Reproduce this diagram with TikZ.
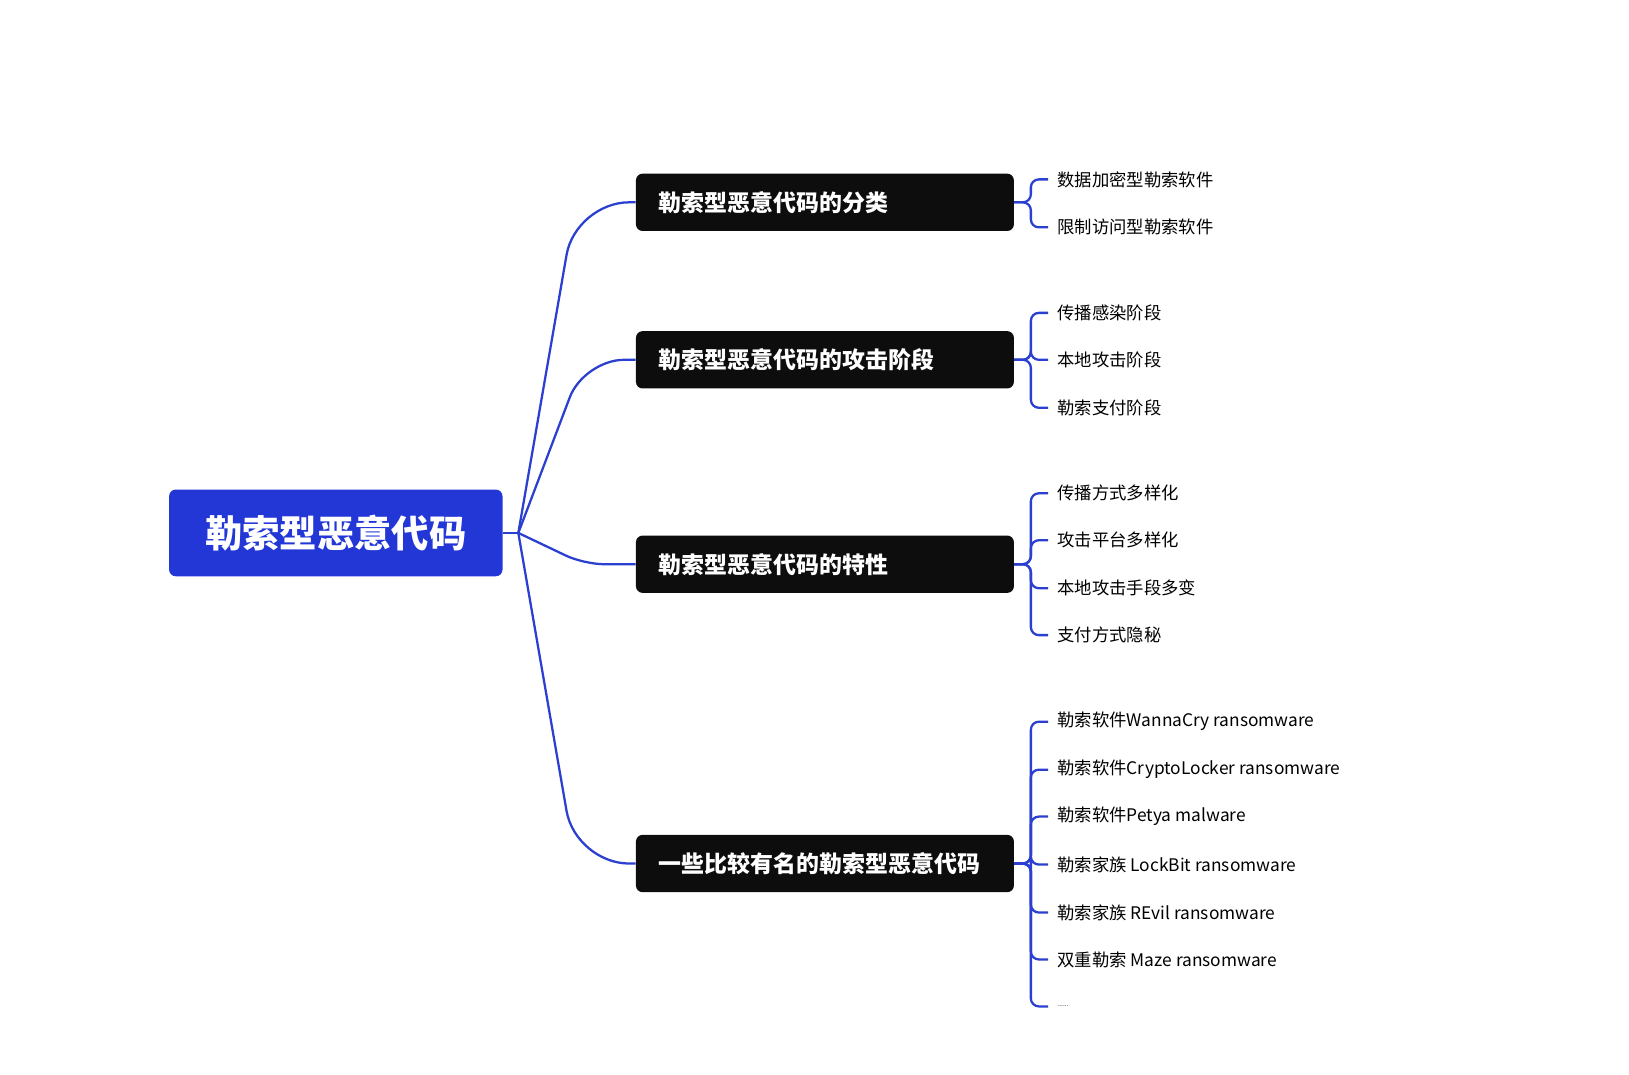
\documentclass[tikz,border=0pt]{standalone}
\usepackage{fontspec}
\setmainfont{Noto Sans CJK SC}
\definecolor{rootblue}{HTML}{2237D6}
\definecolor{linkblue}{HTML}{2B3FD0}
\definecolor{boxblack}{HTML}{0D0D0D}
\begin{document}
\begin{tikzpicture}[x=0.782pt,y=-0.782pt,
    % node styles
    root/.style={fill=rootblue, rounded corners=5pt, minimum width=250pt,
        minimum height=65pt, text=white, font=\fontsize{28}{31}\selectfont\bfseries},
    branch/.style={fill=boxblack, rounded corners=5pt, minimum height=43pt,
        text width=249pt, inner xsep=17.2pt, align=left, text=white,
        font=\fontsize{17.2}{20}\selectfont\bfseries},
    leaf/.style={anchor=west, inner xsep=6.8pt, font=\fontsize{13}{15}\selectfont},
    % connector styles
    link/.style={draw=linkblue, line width=1.7pt},
    ]
    \useasboundingbox (0,0) rectangle (1562,1030);

    % root and branches
    \node[root] (root) at (322,511) {勒索型恶意代码};
    \coordinate (hub) at (497,511);
    \node[branch] (b1) at (791,194) {勒索型恶意代码的分类};
    \node[branch] (b2) at (791,345) {勒索型恶意代码的攻击阶段};
    \node[branch] (b3) at (791,541) {勒索型恶意代码的特性};
    \node[branch] (b4) at (791,828) {一些比较有名的勒索型恶意代码};

    \draw[link] (root.east) -- (hub);
    \draw[link, rounded corners=40pt] (hub) -- (552,194) -- (b1.west);
    \draw[link, rounded corners=30pt] (hub) -- (560,345) -- (b2.west);
    \draw[link, rounded corners=15pt] (hub) -- (560,541) -- (b3.west);
    \draw[link, rounded corners=40pt] (hub) -- (552,828) -- (b4.west);

    % leaves
    \foreach \b/\y/\t [count=\i] in {
        b1/172/数据加密型勒索软件, b1/218/限制访问型勒索软件,
        b2/300/传播感染阶段, b2/345/本地攻击阶段, b2/391/勒索支付阶段,
        b3/473/传播方式多样化, b3/518/攻击平台多样化, b3/564/本地攻击手段多变, b3/609/支付方式隐秘,
        b4/692/勒索软件WannaCry ransomware, b4/738/勒索软件CryptoLocker ransomware,
        b4/783/勒索软件Petya malware, b4/829/勒索家族 LockBit ransomware,
        b4/875/勒索家族 REvil ransomware, b4/920/双重勒索 Maze ransomware,
        b4/965/{\tiny......}} {
        \node[leaf] (l\i) at (1005,\y) {\t};
        \draw[link, rounded corners=6pt] (\b.east) -- ++(16,0) |- (l\i.west);
    }
\end{tikzpicture}
\end{document}
